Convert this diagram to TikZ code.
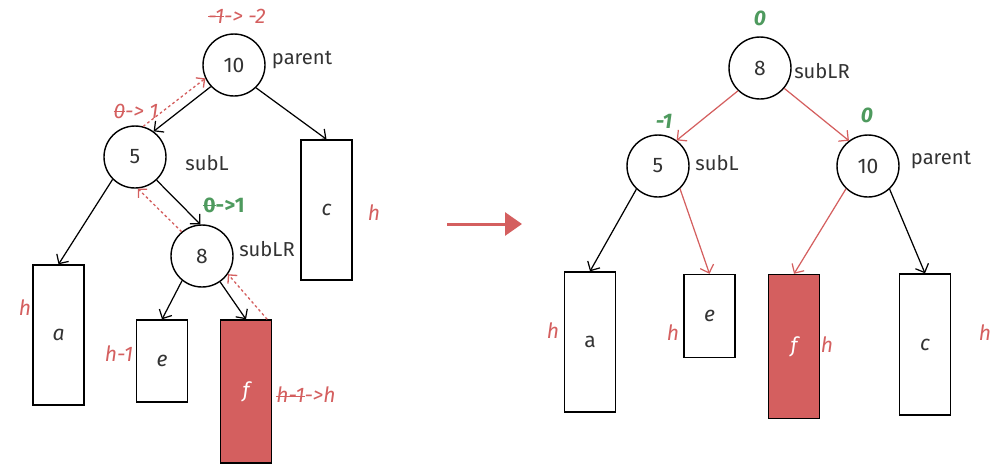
\documentclass[tikz,border=0pt]{standalone}
\usepackage{fontspec}
\setmainfont{Fira Sans}
\usetikzlibrary{arrows.meta}
\definecolor{hred}{HTML}{D45F5F}
\definecolor{hgreen}{HTML}{4E9A5E}
\definecolor{ink}{HTML}{333333}
\newcommand{\strk}[1]{\setbox0=\hbox{#1}\rlap{\raisebox{0.3em}{\rule{\wd0}{0.5pt}}}\box0}
\tikzset{
  vtx/.style={circle,draw,line width=0.8pt,minimum size=1.24cm,inner sep=0pt,text=ink,font=\fontsize{12}{14}\selectfont},
  leaf/.style={draw,line width=0.8pt,minimum width=1.02cm,inner sep=0pt,text=ink,font=\fontsize{12}{14}\selectfont\itshape},
  tag/.style={text=ink,font=\fontsize{11.5}{14}\selectfont},
  ht/.style={text=hred,font=\fontsize{12}{14}\selectfont\itshape},
  bal/.style={text=hgreen,font=\fontsize{12}{14}\selectfont\bfseries\itshape},
  edge/.style={-{Straight Barb[length=4pt,width=8pt]},line width=0.7pt},
  redge/.style={edge,draw=hred},
  back/.style={-{Straight Barb[length=3.5pt,width=7pt]},draw=hred,line width=0.75pt,dash pattern=on 1.5pt off 1.5pt},
}

\begin{document}
\begin{tikzpicture}[x=0.02cm,y=-0.02cm]
   \useasboundingbox (0,0) rectangle (1001,471);

   \node[vtx] (p10) at (234,65) {10};
   \node[vtx] (s5) at (135,157) {5};
   \node[vtx] (s8) at (202,256) {8};
   \node[leaf,minimum height=2.8cm] (a) at (58.5,335) {a};
   \node[leaf,minimum height=1.64cm] (e) at (162,361) {e};
   \node[leaf,minimum height=2.86cm,fill=hred,text=white] (f) at (246,391.5) {f};
   \node[leaf,minimum height=2.8cm] (c) at (326.5,210) {c};

   \node[tag] (tp10) at (302,60) {parent};
   \node[tag] (ts5) at (207,163) {subL};
   \node[tag] (ts8) at (267,249) {subLR};
   \node[ht] (bp10) at (237,16) {\strk{-1} -> -2};
   \node[ht] (bs5) at (136,111) {\strk{0} -> 1};
   \node[text=hgreen,font=\fontsize{12}{14}\selectfont\bfseries] (bs8) at (224,205) {\strk{0}->1};
   \node[ht] (ha) at (25,308) {h};
   \node[ht] (he) at (119,354) {h-1};
   \node[ht] (hf) at (306,395) {\strk{h-1}->h};
   \node[ht] (hc) at (374,213) {h};

   \draw[edge] (p10.223) -- (s5.54);
   \draw[edge] (p10.-46) -- (c.north);
   \draw[edge] (s5.-135) -- (a.north);
   \draw[edge] (s5.-47) -- (s8.93);
   \draw[edge] (s8.-129) -- (e.north);
   \draw[edge] (s8.-55) -- (f.north);
   \draw[back] ([xshift=-0.1cm]f.north east) -- (s8.-35);
   \draw[back] (s8.130) -- (s5.-85);
   \draw[back] (s5.75) -- (p10.205);

   \coordinate (arrL) at (447,224);
   \coordinate (arrR) at (522,224);
   \draw[hred,line width=0.06cm,-{Triangle[length=0.34cm,width=0.46cm]}] (arrL) -- (arrR);

   \node[vtx] (r8) at (760,68) {8};
   \node[vtx] (r5) at (658,166) {5};
   \node[vtx] (r10) at (868,166) {10};
   \node[leaf,minimum height=2.8cm,font=\fontsize{12}{14}\selectfont] (a2) at (590,342) {a};
   \node[leaf,minimum height=1.66cm] (e2) at (709.5,316) {e};
   \node[leaf,minimum height=2.88cm,fill=hred,text=white] (f2) at (794,346.5) {f};
   \node[leaf,minimum height=2.82cm] (c2) at (925,344.5) {c};

   \node[tag] (tr8) at (822,71) {subLR};
   \node[tag] (tr5) at (717,163) {subL};
   \node[tag] (tr10) at (941,160) {parent};
   \node[bal] (br8) at (760,18) {0};
   \node[bal] (br5) at (664,121) {-1};
   \node[bal] (br10) at (867,115) {0};
   \node[ht] (ha2) at (553,331) {h};
   \node[ht] (he2) at (673,333) {h};
   \node[ht] (hf2) at (827,345) {h};
   \node[ht] (hc2) at (985,333) {h};

   \draw[redge] (r8.-134) -- (r5.54);
   \draw[redge] (r8.-40) -- (r10.127);
   \draw[edge] (r5.-133) -- (a2.north);
   \draw[redge] (r5.-46) -- (e2.north);
   \draw[redge] (r10.-134) -- (f2.north);
   \draw[edge] (r10.-47) -- (c2.north);
\end{tikzpicture}
\end{document}
